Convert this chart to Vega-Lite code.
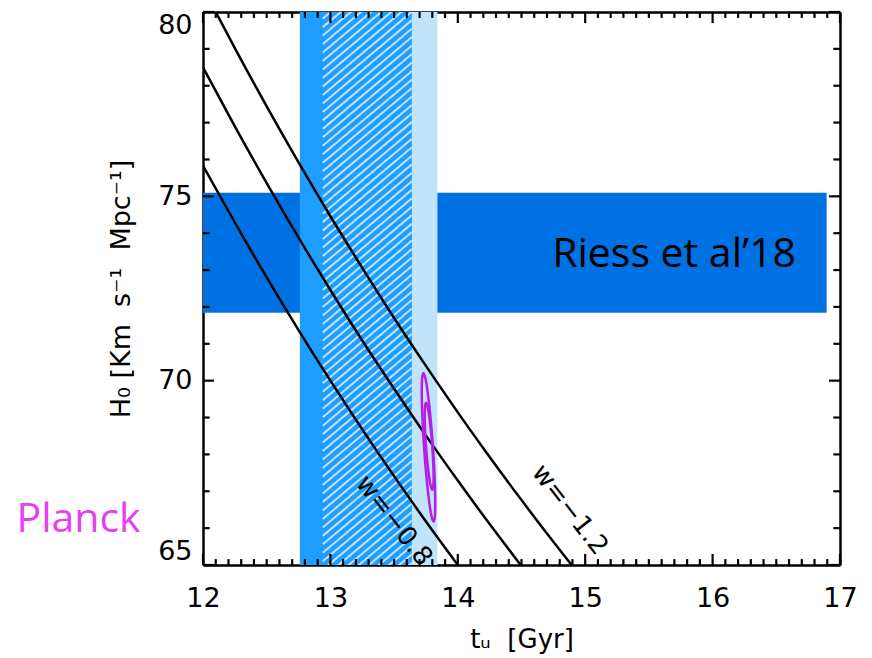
{
  "$schema": "https://vega.github.io/schema/vega-lite/v6.json",
  "width": 637,
  "height": 553,
  "autosize": {"type": "none"},
  "padding": {"left": 203, "top": 12, "right": 32, "bottom": 93},
  "background": "white",
  "config": {
    "view": {"stroke": null},
    "axis": {
      "domainColor": "black",
      "domainWidth": 2.5,
      "ticks": false,
      "tickCount": 200,
      "tickMinStep": 0.01,
      "zindex": 1,
      "labelFont": "DejaVu Sans",
      "labelFontSize": 27,
      "labelColor": "black",
      "titleFont": "DejaVu Sans",
      "titleFontSize": 26,
      "titleFontWeight": "normal",
      "titleColor": "black",
      "grid": false,
      "labelOverlap": false,
      "labelBound": false
    }
  },
  "datasets": {
    "xmaj": [{"v": 12}, {"v": 13}, {"v": 14}, {"v": 15}, {"v": 16}, {"v": 17}],
    "xmin": [{"v":12.1},{"v":12.2},{"v":12.3},{"v":12.4},{"v":12.5},{"v":12.6},{"v":12.7},{"v":12.8},{"v":12.9},
             {"v":13.1},{"v":13.2},{"v":13.3},{"v":13.4},{"v":13.5},{"v":13.6},{"v":13.7},{"v":13.8},{"v":13.9},
             {"v":14.1},{"v":14.2},{"v":14.3},{"v":14.4},{"v":14.5},{"v":14.6},{"v":14.7},{"v":14.8},{"v":14.9},
             {"v":15.1},{"v":15.2},{"v":15.3},{"v":15.4},{"v":15.5},{"v":15.6},{"v":15.7},{"v":15.8},{"v":15.9},
             {"v":16.1},{"v":16.2},{"v":16.3},{"v":16.4},{"v":16.5},{"v":16.6},{"v":16.7},{"v":16.8},{"v":16.9}],
    "ymaj": [{"v": 65}, {"v": 70}, {"v": 75}, {"v": 80}],
    "ymin": [{"v":66},{"v":67},{"v":68},{"v":69},{"v":71},{"v":72},{"v":73},{"v":74},{"v":76},{"v":77},{"v":78},{"v":79}]
  },
  "resolve": {"axis": {"x": "independent", "y": "independent"}},
  "layer": [
    {
      "data": {"values": [
        {"name": "riess", "t1": 12.0, "t2": 16.895, "h1": 71.84, "h2": 75.10},
        {"name": "age", "t1": 12.76, "t2": 13.64, "h1": 65, "h2": 80},
        {"name": "ageHi", "t1": 13.64, "t2": 13.84, "h1": 65, "h2": 80}
      ]},
      "mark": {"type": "rect", "clip": true},
      "encoding": {
        "x": {"field": "t1", "type": "quantitative",
          "scale": {"domain": [12, 17], "nice": false, "zero": false},
          "axis": {
            "orient": "bottom",
            "values": [12, 13, 14, 15, 16, 17],
            "format": "d",
            "labelFlush": false,
            "labelPadding": 20,
            "title": "tᵤ\u00a0 [Gyr]",
            "titlePadding": 15
          }},
        "x2": {"field": "t2"},
        "y": {"field": "h1", "type": "quantitative",
          "scale": {"domain": [65, 80], "nice": false, "zero": false},
          "axis": {
            "orient": "left",
            "values": [65, 70, 75, 80],
            "format": "d",
            "labelFlush": true,
            "labelPadding": 11,
            "title": "H₀ [Km\u00a0 s⁻¹\u00a0 Mpc⁻¹]",
            "titleFontSize": 27,
            "titlePadding": 22
          }},
        "y2": {"field": "h2"},
        "color": {"field": "name", "type": "nominal",
          "scale": {"domain": ["riess", "age", "ageHi"], "range": ["#0071E3", "#1F9EFF", "#C1E4FA"]},
          "legend": null}
      }
    },
    {
      "data": {"values": [
        {"a": 63.03, "b": 65.06}, {"a": 63.26, "b": 65.29}, {"a": 63.49, "b": 65.52}, {"a": 63.72, "b": 65.75},
        {"a": 63.95, "b": 65.98}, {"a": 64.18, "b": 66.21}, {"a": 64.41, "b": 66.44}, {"a": 64.64, "b": 66.67},
        {"a": 64.87, "b": 66.90}, {"a": 65.10, "b": 67.13}, {"a": 65.33, "b": 67.36}, {"a": 65.56, "b": 67.59},
        {"a": 65.79, "b": 67.82}, {"a": 66.02, "b": 68.05}, {"a": 66.25, "b": 68.28}, {"a": 66.48, "b": 68.51},
        {"a": 66.71, "b": 68.74}, {"a": 66.94, "b": 68.97}, {"a": 67.17, "b": 69.20}, {"a": 67.40, "b": 69.43},
        {"a": 67.63, "b": 69.66}, {"a": 67.86, "b": 69.89}, {"a": 68.09, "b": 70.12}, {"a": 68.32, "b": 70.35},
        {"a": 68.55, "b": 70.58}, {"a": 68.78, "b": 70.81}, {"a": 69.01, "b": 71.04}, {"a": 69.24, "b": 71.27},
        {"a": 69.47, "b": 71.50}, {"a": 69.70, "b": 71.73}, {"a": 69.93, "b": 71.96}, {"a": 70.16, "b": 72.19},
        {"a": 70.39, "b": 72.42}, {"a": 70.62, "b": 72.65}, {"a": 70.85, "b": 72.88}, {"a": 71.08, "b": 73.11},
        {"a": 71.31, "b": 73.34}, {"a": 71.54, "b": 73.57}, {"a": 71.77, "b": 73.80}, {"a": 72.00, "b": 74.03},
        {"a": 72.23, "b": 74.26}, {"a": 72.46, "b": 74.49}, {"a": 72.69, "b": 74.72}, {"a": 72.92, "b": 74.95},
        {"a": 73.15, "b": 75.18}, {"a": 73.38, "b": 75.41}, {"a": 73.61, "b": 75.64}, {"a": 73.84, "b": 75.87},
        {"a": 74.07, "b": 76.10}, {"a": 74.30, "b": 76.33}, {"a": 74.53, "b": 76.56}, {"a": 74.76, "b": 76.79},
        {"a": 74.99, "b": 77.02}, {"a": 75.22, "b": 77.25}, {"a": 75.45, "b": 77.48}, {"a": 75.68, "b": 77.71},
        {"a": 75.91, "b": 77.94}, {"a": 76.14, "b": 78.17}, {"a": 76.37, "b": 78.40}, {"a": 76.60, "b": 78.63},
        {"a": 76.83, "b": 78.86}, {"a": 77.06, "b": 79.09}, {"a": 77.29, "b": 79.32}, {"a": 77.52, "b": 79.55},
        {"a": 77.75, "b": 79.78}, {"a": 77.98, "b": 80.01}, {"a": 78.21, "b": 80.24}, {"a": 78.44, "b": 80.47},
        {"a": 78.67, "b": 80.70}, {"a": 78.90, "b": 80.93}, {"a": 79.13, "b": 81.16}, {"a": 79.36, "b": 81.39},
        {"a": 79.59, "b": 81.62}, {"a": 79.82, "b": 81.85}
      ]},
      "mark": {"type": "rule", "clip": true, "stroke": "#BDE3FF", "strokeWidth": 2},
      "encoding": {
        "x": {"datum": 12.94, "type": "quantitative", "scale": {"domain": [12, 17], "nice": false, "zero": false}, "axis": null},
        "x2": {"datum": 13.64},
        "y": {"field": "a", "type": "quantitative", "scale": {"domain": [65, 80], "nice": false, "zero": false}, "axis": null},
        "y2": {"field": "b"}
      }
    },
    {
      "data": {"values": [
        {"w": "-0.8", "t": 12.0, "h": 75.83}, {"w": "-0.8", "t": 12.25, "h": 74.29}, {"w": "-0.8", "t": 12.5, "h": 72.80},
        {"w": "-0.8", "t": 12.75, "h": 71.37}, {"w": "-0.8", "t": 13.0, "h": 70.00}, {"w": "-0.8", "t": 13.25, "h": 68.68},
        {"w": "-0.8", "t": 13.5, "h": 67.41}, {"w": "-0.8", "t": 13.75, "h": 66.18}, {"w": "-0.8", "t": 14.0, "h": 65.00},
        {"w": "-1.0", "t": 12.0, "h": 78.50}, {"w": "-1.0", "t": 12.25, "h": 76.90}, {"w": "-1.0", "t": 12.5, "h": 75.36},
        {"w": "-1.0", "t": 12.75, "h": 73.88}, {"w": "-1.0", "t": 13.0, "h": 72.46}, {"w": "-1.0", "t": 13.25, "h": 71.09},
        {"w": "-1.0", "t": 13.5, "h": 69.78}, {"w": "-1.0", "t": 13.75, "h": 68.51}, {"w": "-1.0", "t": 14.0, "h": 67.29},
        {"w": "-1.0", "t": 14.25, "h": 66.11}, {"w": "-1.0", "t": 14.5, "h": 64.97},
        {"w": "-1.2", "t": 12.1, "h": 80.00}, {"w": "-1.2", "t": 12.25, "h": 79.02}, {"w": "-1.2", "t": 12.5, "h": 77.44},
        {"w": "-1.2", "t": 12.75, "h": 75.92}, {"w": "-1.2", "t": 13.0, "h": 74.46}, {"w": "-1.2", "t": 13.25, "h": 73.06},
        {"w": "-1.2", "t": 13.5, "h": 71.70}, {"w": "-1.2", "t": 13.75, "h": 70.40}, {"w": "-1.2", "t": 14.0, "h": 69.14},
        {"w": "-1.2", "t": 14.25, "h": 67.93}, {"w": "-1.2", "t": 14.5, "h": 66.76}, {"w": "-1.2", "t": 14.75, "h": 65.63},
        {"w": "-1.2", "t": 14.9, "h": 64.97}
      ]},
      "mark": {"type": "line", "clip": true, "color": "black", "strokeWidth": 2.5, "interpolate": "monotone"},
      "encoding": {
        "x": {"field": "t", "type": "quantitative",
          "scale": {"domain": [12, 17], "nice": false, "zero": false},
          "axis": {"orient": "top", "values": [12, 13, 14, 15, 16, 17], "labels": false, "title": null}},
        "y": {"field": "h", "type": "quantitative",
          "scale": {"domain": [65, 80], "nice": false, "zero": false},
          "axis": {"orient": "right", "values": [65, 70, 75, 80], "labels": false, "title": null}},
        "detail": {"field": "w", "type": "nominal"},
        "order": {"field": "t", "type": "quantitative"}
      }
    },
    {
      "data": {"values": [
        {"c": "outer", "i": 0, "t": 13.805, "h": 68.19}, {"c": "outer", "i": 1, "t": 13.780, "h": 69.20},
        {"c": "outer", "i": 2, "t": 13.753, "h": 69.94}, {"c": "outer", "i": 3, "t": 13.730, "h": 70.21},
        {"c": "outer", "i": 4, "t": 13.718, "h": 69.94}, {"c": "outer", "i": 5, "t": 13.720, "h": 69.20},
        {"c": "outer", "i": 6, "t": 13.735, "h": 68.19}, {"c": "outer", "i": 7, "t": 13.760, "h": 67.18},
        {"c": "outer", "i": 8, "t": 13.787, "h": 66.44}, {"c": "outer", "i": 9, "t": 13.810, "h": 66.17},
        {"c": "outer", "i": 10, "t": 13.822, "h": 66.44}, {"c": "outer", "i": 11, "t": 13.820, "h": 67.18},
        {"c": "inner", "i": 0, "t": 13.800, "h": 68.22}, {"c": "inner", "i": 1, "t": 13.784, "h": 68.81},
        {"c": "inner", "i": 2, "t": 13.766, "h": 69.24}, {"c": "inner", "i": 3, "t": 13.750, "h": 69.40},
        {"c": "inner", "i": 4, "t": 13.741, "h": 69.24}, {"c": "inner", "i": 5, "t": 13.741, "h": 68.81},
        {"c": "inner", "i": 6, "t": 13.750, "h": 68.22}, {"c": "inner", "i": 7, "t": 13.766, "h": 67.63},
        {"c": "inner", "i": 8, "t": 13.784, "h": 67.20}, {"c": "inner", "i": 9, "t": 13.800, "h": 67.04},
        {"c": "inner", "i": 10, "t": 13.809, "h": 67.20}, {"c": "inner", "i": 11, "t": 13.809, "h": 67.63}
      ]},
      "mark": {"type": "line", "color": "#B41EE6", "strokeWidth": 2.5, "interpolate": "cardinal-closed"},
      "encoding": {
        "x": {"field": "t", "type": "quantitative", "scale": {"domain": [12, 17], "nice": false, "zero": false}, "axis": null},
        "y": {"field": "h", "type": "quantitative", "scale": {"domain": [65, 80], "nice": false, "zero": false}, "axis": null},
        "detail": {"field": "c", "type": "nominal"},
        "order": {"field": "i", "type": "quantitative"}
      }
    },
    {
      "data": {"name": "xmaj"},
      "mark": {"type": "rule", "color": "black", "strokeWidth": 2.2},
      "encoding": {
        "x": {"field": "v", "type": "quantitative", "scale": {"domain": [12, 17], "nice": false, "zero": false}, "axis": null},
        "y": {"datum": 65, "type": "quantitative", "scale": {"domain": [65, 80], "nice": false, "zero": false}, "axis": null},
        "y2": {"datum": 65.30}
      }
    },
    {
      "data": {"name": "xmaj"},
      "mark": {"type": "rule", "color": "black", "strokeWidth": 2.2},
      "encoding": {
        "x": {"field": "v", "type": "quantitative", "scale": {"domain": [12, 17], "nice": false, "zero": false}, "axis": null},
        "y": {"datum": 80, "type": "quantitative", "scale": {"domain": [65, 80], "nice": false, "zero": false}, "axis": null},
        "y2": {"datum": 79.70}
      }
    },
    {
      "data": {"name": "xmin"},
      "mark": {"type": "rule", "color": "black", "strokeWidth": 2.2},
      "encoding": {
        "x": {"field": "v", "type": "quantitative", "scale": {"domain": [12, 17], "nice": false, "zero": false}, "axis": null},
        "y": {"datum": 65, "type": "quantitative", "scale": {"domain": [65, 80], "nice": false, "zero": false}, "axis": null},
        "y2": {"datum": 65.16}
      }
    },
    {
      "data": {"name": "xmin"},
      "mark": {"type": "rule", "color": "black", "strokeWidth": 2.2},
      "encoding": {
        "x": {"field": "v", "type": "quantitative", "scale": {"domain": [12, 17], "nice": false, "zero": false}, "axis": null},
        "y": {"datum": 80, "type": "quantitative", "scale": {"domain": [65, 80], "nice": false, "zero": false}, "axis": null},
        "y2": {"datum": 79.84}
      }
    },
    {
      "data": {"name": "ymaj"},
      "mark": {"type": "rule", "color": "black", "strokeWidth": 2.2},
      "encoding": {
        "x": {"datum": 12, "type": "quantitative", "scale": {"domain": [12, 17], "nice": false, "zero": false}, "axis": null},
        "x2": {"datum": 12.086},
        "y": {"field": "v", "type": "quantitative", "scale": {"domain": [65, 80], "nice": false, "zero": false}, "axis": null}
      }
    },
    {
      "data": {"name": "ymaj"},
      "mark": {"type": "rule", "color": "black", "strokeWidth": 2.2},
      "encoding": {
        "x": {"datum": 17, "type": "quantitative", "scale": {"domain": [12, 17], "nice": false, "zero": false}, "axis": null},
        "x2": {"datum": 16.914},
        "y": {"field": "v", "type": "quantitative", "scale": {"domain": [65, 80], "nice": false, "zero": false}, "axis": null}
      }
    },
    {
      "data": {"name": "ymin"},
      "mark": {"type": "rule", "color": "black", "strokeWidth": 2.2},
      "encoding": {
        "x": {"datum": 12, "type": "quantitative", "scale": {"domain": [12, 17], "nice": false, "zero": false}, "axis": null},
        "x2": {"datum": 12.052},
        "y": {"field": "v", "type": "quantitative", "scale": {"domain": [65, 80], "nice": false, "zero": false}, "axis": null}
      }
    },
    {
      "data": {"name": "ymin"},
      "mark": {"type": "rule", "color": "black", "strokeWidth": 2.2},
      "encoding": {
        "x": {"datum": 17, "type": "quantitative", "scale": {"domain": [12, 17], "nice": false, "zero": false}, "axis": null},
        "x2": {"datum": 16.948},
        "y": {"field": "v", "type": "quantitative", "scale": {"domain": [65, 80], "nice": false, "zero": false}, "axis": null}
      }
    },
    {
      "data": {"values": [
        {"label": "w=−0.8", "t": 13.5, "h": 66.2},
        {"label": "w=−1.2", "t": 14.88, "h": 66.5}
      ]},
      "mark": {"type": "text", "font": "DejaVu Sans", "fontSize": 26, "color": "black", "angle": 52, "align": "center", "baseline": "middle"},
      "encoding": {
        "x": {"field": "t", "type": "quantitative", "scale": {"domain": [12, 17], "nice": false, "zero": false}, "axis": null},
        "y": {"field": "h", "type": "quantitative", "scale": {"domain": [65, 80], "nice": false, "zero": false}, "axis": null},
        "text": {"field": "label"}
      }
    },
    {
      "data": {"values": [{"label": "Riess et al’18", "t": 15.697, "h": 73.08}]},
      "mark": {"type": "text", "font": "Open Sans", "fontSize": 41, "color": "black", "align": "center", "baseline": "alphabetic"},
      "encoding": {
        "x": {"field": "t", "type": "quantitative", "scale": {"domain": [12, 17], "nice": false, "zero": false}, "axis": null},
        "y": {"field": "h", "type": "quantitative", "scale": {"domain": [65, 80], "nice": false, "zero": false}, "axis": null},
        "text": {"field": "label"}
      }
    },
    {
      "data": {"values": [{"label": "Planck", "t": 11.023, "h": 65.90}]},
      "mark": {"type": "text", "font": "Open Sans", "fontSize": 41, "color": "#E63FF2", "align": "center", "baseline": "alphabetic"},
      "encoding": {
        "x": {"field": "t", "type": "quantitative", "scale": {"domain": [12, 17], "nice": false, "zero": false}, "axis": null},
        "y": {"field": "h", "type": "quantitative", "scale": {"domain": [65, 80], "nice": false, "zero": false}, "axis": null},
        "text": {"field": "label"}
      }
    }
  ]
}
